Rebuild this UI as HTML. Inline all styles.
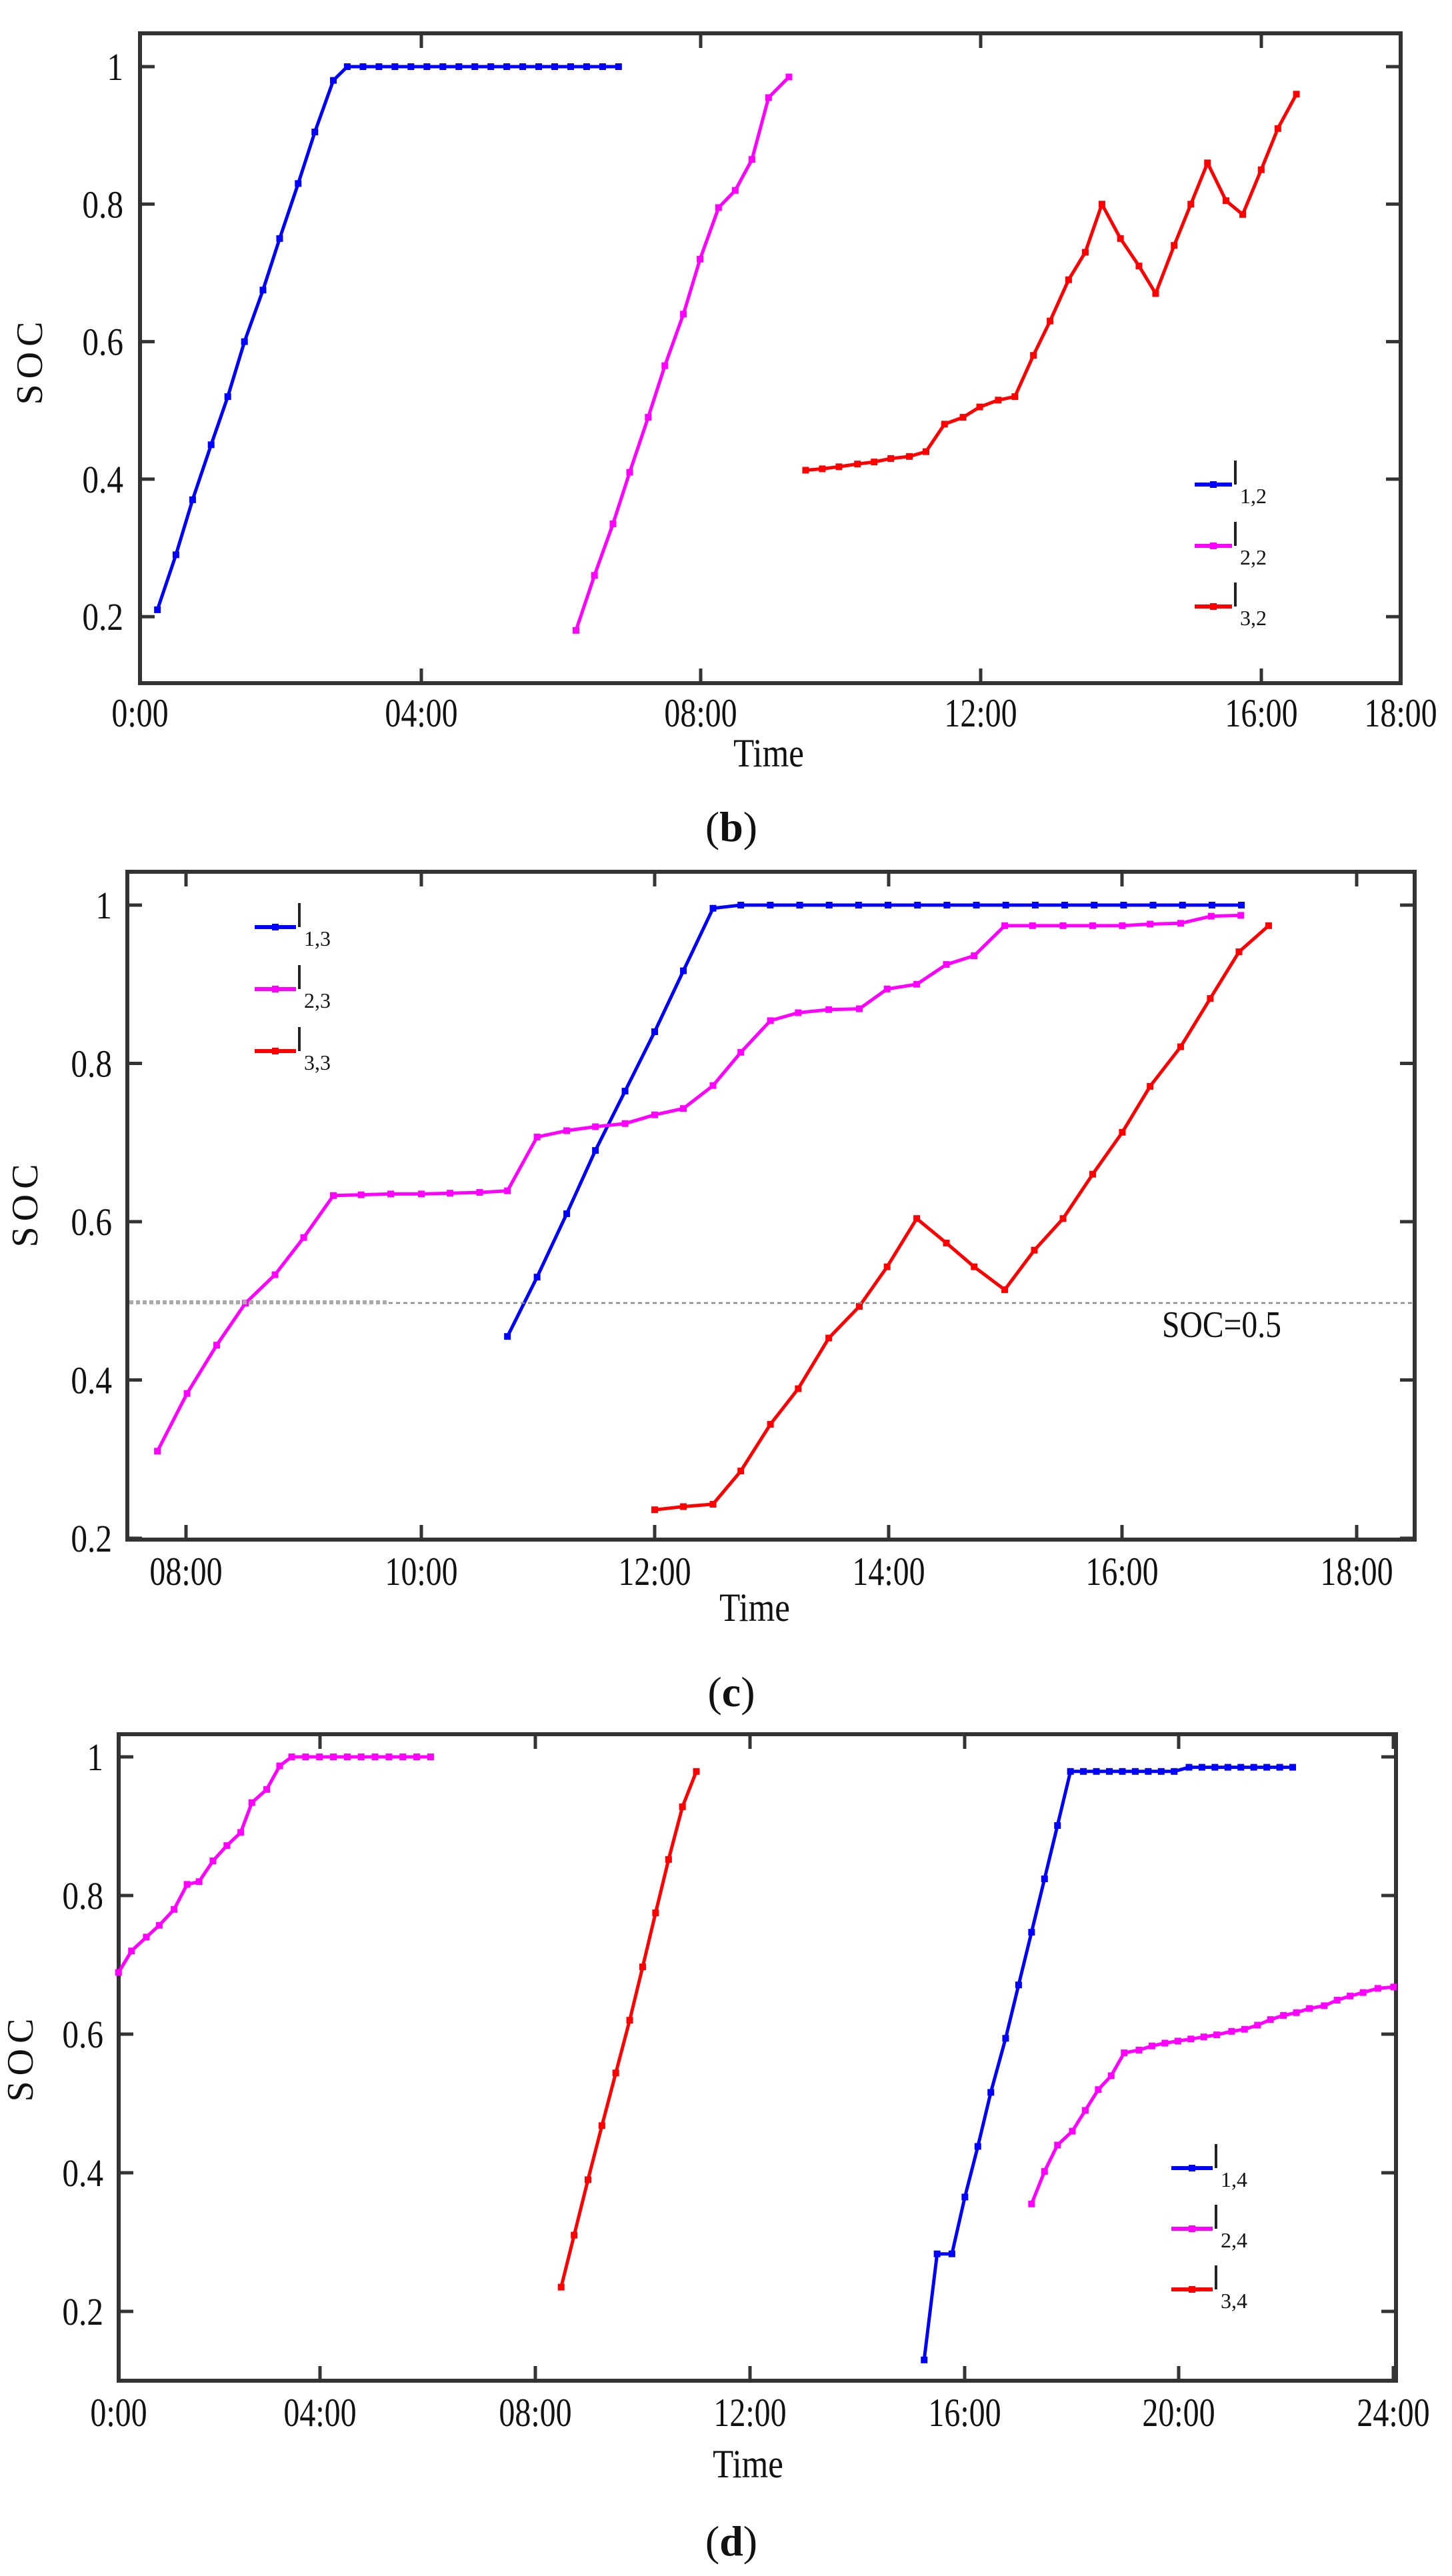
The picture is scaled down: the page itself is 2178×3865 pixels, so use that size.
<!DOCTYPE html>
<html><head><meta charset="utf-8">
<style>
html,body{margin:0;padding:0;background:#fff;}
svg{display:block;}
text{font-family:"Liberation Serif",serif;fill:#111;}
</style></head>
<body>
<svg id="s" width="2178" height="3865" viewBox="0 0 2178 3865" xmlns="http://www.w3.org/2000/svg">
<rect width="2178" height="3865" fill="#fff"/>
<g id="g"></g>
</svg>
<script>
var NS="http://www.w3.org/2000/svg",G=document.getElementById('g');
function el(n,a,t){var e=document.createElementNS(NS,n);for(var k in a)e.setAttribute(k,a[k]);if(t!==undefined)e.textContent=t;G.appendChild(e);return e;}
var charts=[
 {L:210,R:2101,T:50,B:1025,yv:function(v){return 100+(1-v)*1031.5;},
  yt:[[1,'1'],[0.8,'0.8'],[0.6,'0.6'],[0.4,'0.4'],[0.2,'0.2']],ylabR:185,
  xt:[[210,'0:00'],[632,'04:00'],[1051,'08:00'],[1471,'12:00'],[1892,'16:00'],[2101,'18:00']],xlabY:1090,
  time:[1153,1150],cap:[1097,1262,'b'],soc:[63,541],
  leg:{x1:1792,x2:1848,ys:[727,819,910],sub:['1,2','2,2','3,2']},
  series:[
   ['#0000ff',[[170,.21],[190,.29],[208,.37],[228,.45],[246,.52],[264,.60],[284,.675],[302,.75],[322,.83],[340,.905],[360,.98],[375,1]].concat((function(){var a=[];for(var x=392;x<=668;x+=17.25)a.push([x,1]);return a;})())],
   ['#ff00ff',[[622,.18],[642,.26],[662,.335],[680,.41],[700,.49],[718,.565],[738,.64],[756,.72],[776,.795],[794,.82],[812,.865],[830,.955],[852,.985]]],
   ['#ff0000',[[870,.413],[888,.415],[906,.418],[926,.422],[944,.425],[962,.43],[982,.433],[1000,.44],[1020,.48],[1040,.49],[1058,.505],[1078,.515],[1096,.52],[1116,.58],[1134,.63],[1154,.69],[1172,.73],[1190,.80],[1210,.75],[1230,.71],[1248,.67],[1268,.74],[1286,.80],[1304,.86],[1324,.805],[1342,.785],[1362,.85],[1380,.91],[1400,.96]]]
  ]},
 {L:191,R:2122,T:1308,B:2310,yv:function(v){return 1358+(1-v)*1187.5;},
  yt:[[1,'1'],[0.8,'0.8'],[0.6,'0.6'],[0.4,'0.4'],[0.2,'0.2']],ylabR:168,
  xt:[[279,'08:00'],[632,'10:00'],[982,'12:00'],[1333,'14:00'],[1683,'16:00'],[2035,'18:00']],xlabY:2378,
  time:[1132,2432],cap:[1097,2560,'c'],soc:[56,1805],
  leg:{x1:382,x2:444,ys:[1391,1484,1577],sub:['1,3','2,3','3,3']},
  series:[
   ['#0000ff',[[548,.455],[580,.53],[612,.61],[643,.69],[675,.765],[707,.84],[738,.917],[770,.996]].concat((function(){var a=[];for(var x=800;x<=1372;x+=31.8)a.push([x,1]);return a;})())],
   ['#ff00ff',[[170,.31],[202,.383],[234,.444],[265,.497],[297,.533],[328,.58],[360,.633],[390,.634],[422,.635],[455,.635],[486,.636],[518,.637],[548,.639],[580,.707],[612,.715],[643,.72],[675,.724],[707,.735],[738,.743],[770,.772],[800,.814],[832,.854],[862,.864],[895,.868],[928,.869],[958,.894],[990,.9],[1022,.925],[1052,.936],[1085,.974],[1115,.974],[1148,.974],[1180,.974],[1212,.974],[1242,.976],[1275,.977],[1308,.986],[1340,.987]]],
   ['#ff0000',[[707,.236],[738,.24],[770,.243],[800,.285],[832,.344],[862,.389],[895,.453],[928,.493],[958,.543],[990,.604],[1022,.573],[1052,.543],[1085,.514],[1117,.564],[1148,.604],[1180,.66],[1212,.713],[1242,.771],[1275,.821],[1307,.882],[1338,.941],[1370,.974]]]
  ]},
 {L:178,R:2094,T:2602,B:3572,yv:function(v){return 2636+(1-v)*1040;},
  yt:[[1,'1'],[0.8,'0.8'],[0.6,'0.6'],[0.4,'0.4'],[0.2,'0.2']],ylabR:155,
  xt:[[178,'0:00'],[480,'04:00'],[803,'08:00'],[1125,'12:00'],[1447,'16:00'],[1768,'20:00'],[2090,'24:00']],xlabY:3640,
  time:[1122,3717],cap:[1097,3834,'d'],soc:[49,3087],
  leg:{x1:1757,x2:1819,ys:[3253,3344,3435],sub:['1,4','2,4','3,4']},
  series:[
   ['#0000ff',[[998,.13],[1012,.283],[1028,.283],[1042,.365],[1056,.438],[1070,.516],[1086,.594],[1100,.671],[1114,.747],[1128,.824],[1142,.901],[1156,.979]].concat((function(){var a=[];for(var x=1170;x<=1270;x+=14)a.push([x,.979]);for(x=1284;x<=1396;x+=14)a.push([x,.985]);return a;})())],
   ['#ff00ff',[[128,.689],[142,.72],[158,.74],[172,.757],[188,.78],[202,.816],[215,.82],[230,.85],[245,.872],[260,.891],[272,.934],[288,.953],[302,.987],[315,1]].concat((function(){var a=[];for(var x=330;x<=466;x+=15)a.push([x,1]);return a;})())],
   ['#ff0000',[[606,.235],[620,.31],[635,.39],[650,.468],[665,.544],[680,.62],[694,.697],[708,.775],[722,.852],[737,.928],[752,.979]]],
   ['#ff00ff',[[1114,.355],[1128,.402],[1142,.44],[1158,.46],[1172,.49],[1186,.52],[1200,.54],[1214,.573],[1230,.577],[1244,.583],[1258,.587],[1272,.59],[1286,.593],[1300,.596],[1314,.599],[1330,.604],[1344,.607],[1358,.613],[1372,.621],[1386,.627],[1400,.631],[1414,.637],[1430,.641],[1444,.649],[1458,.655],[1472,.66],[1488,.666],[1505,.668]]]
  ]}
];
charts.forEach(function(c){
  el('rect',{x:c.L,y:c.T,width:c.R-c.L,height:c.B-c.T,fill:'none',stroke:'#333','stroke-width':6});
  c.yt.forEach(function(t){var y=c.yv(t[0]);
    el('line',{x1:c.L,y1:y,x2:c.L+22,y2:y,stroke:'#333','stroke-width':5});
    el('line',{x1:c.R,y1:y,x2:c.R-22,y2:y,stroke:'#333','stroke-width':5});
    el('text',{x:c.ylabR,y:y+20,'font-size':58,'text-anchor':'end',transform:'translate('+c.ylabR+' 0) scale(0.85 1) translate('+(-c.ylabR)+' 0)'},t[1]);
  });
  c.xt.forEach(function(t){var x=t[0];
    el('line',{x1:x,y1:c.B,x2:x,y2:c.B-22,stroke:'#333','stroke-width':5});
    el('line',{x1:x,y1:c.T,x2:x,y2:c.T+22,stroke:'#333','stroke-width':5});
    el('text',{x:x,y:c.xlabY,'font-size':60,'text-anchor':'middle',transform:'translate('+x+' 0) scale(0.8 1) translate('+(-x)+' 0)'},t[1]);
  });
  el('text',{x:c.time[0],y:c.time[1],'font-size':60,'text-anchor':'middle',transform:'translate('+c.time[0]+' 0) scale(0.85 1) translate('+(-c.time[0])+' 0)'},'Time');
  var cp=el('text',{x:c.cap[0],y:c.cap[1],'font-size':64,'text-anchor':'middle'});
  cp.innerHTML='(<tspan font-weight="bold">'+c.cap[2]+'</tspan>)';
  el('text',{x:c.soc[0],y:c.soc[1],'font-size':56,'text-anchor':'middle','letter-spacing':'8',transform:'rotate(-90 '+c.soc[0]+' '+c.soc[1]+')'},'SOC');
  c.series.forEach(function(s){
    var pts=s[1].map(function(p){return [p[0]*1.389,c.yv(p[1])];});
    el('polyline',{points:pts.map(function(p){return p[0].toFixed(1)+','+p[1].toFixed(1);}).join(' '),fill:'none',stroke:s[0],'stroke-width':5,'stroke-linejoin':'round'});
    pts.forEach(function(p){el('rect',{x:p[0]-5,y:p[1]-5,width:10,height:10,fill:s[0]});});
  });
  var cols=['#0000ff','#ff00ff','#ff0000'];
  c.leg.ys.forEach(function(y,i){
    el('line',{x1:c.leg.x1,y1:y,x2:c.leg.x2,y2:y,stroke:cols[i],'stroke-width':6});
    el('rect',{x:(c.leg.x1+c.leg.x2)/2-5,y:y-5,width:10,height:10,fill:cols[i]});
    el('line',{x1:c.leg.x2+5,y1:y-36,x2:c.leg.x2+5,y2:y,stroke:'#222','stroke-width':4});
    el('text',{x:c.leg.x2+12,y:y+28,'font-size':32},c.leg.sub[i]);
  });
});
el('line',{x1:194,y1:1954,x2:583,y2:1954,stroke:'#aaa','stroke-width':6,'stroke-dasharray':'6 4'});
el('line',{x1:583,y1:1955,x2:2120,y2:1955,stroke:'#888','stroke-width':2.5,'stroke-dasharray':'6 5'});
el('text',{x:1743,y:2006,'font-size':56,transform:'translate(1743 0) scale(0.85 1) translate(-1743 0)'},'SOC=0.5');
</script>
</body></html>
